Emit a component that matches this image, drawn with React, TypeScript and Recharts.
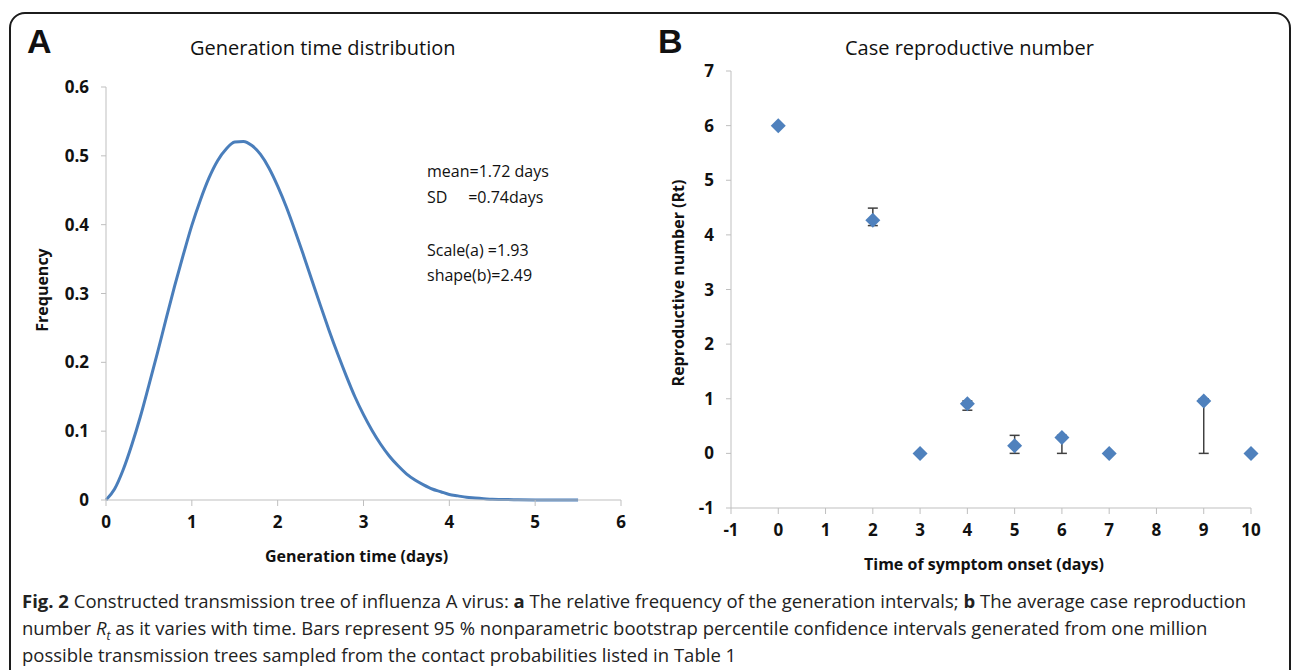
import React from "react";
import {
  LineChart,
  Line,
  ScatterChart,
  Scatter,
  ErrorBar,
  XAxis,
  YAxis,
} from "recharts";

// Panel A: generation time distribution
const genTime = [
  0, 0.1, 0.2, 0.3, 0.4, 0.5, 0.6, 0.7, 0.8, 0.9, 1.0, 1.1, 1.2, 1.3, 1.4,
  1.5, 1.6, 1.7, 1.8, 1.9, 2.0, 2.1, 2.2, 2.3, 2.4, 2.5, 2.6, 2.7, 2.8, 2.9,
  3.0, 3.1, 3.2, 3.3, 3.4, 3.5, 3.6, 3.7, 3.8, 3.9, 4.0, 4.1, 4.2, 4.3, 4.4,
  4.5, 4.75, 5.0, 5.25, 5.5,
];
const genFreq = [
  0, 0.016, 0.044, 0.08, 0.121, 0.167, 0.214, 0.263, 0.311, 0.356, 0.399,
  0.436, 0.468, 0.493, 0.51, 0.52, 0.521, 0.515, 0.502, 0.482, 0.456, 0.426,
  0.392, 0.356, 0.319, 0.282, 0.246, 0.212, 0.18, 0.15, 0.124, 0.101, 0.081,
  0.064, 0.05, 0.038, 0.029, 0.022, 0.016, 0.012, 0.008, 0.006, 0.004, 0.003,
  0.002, 0.001, 0.0005, 0.0001, 0, 0,
];
const genTicksX = [0, 1, 2, 3, 4, 5, 6];
const genTicksY = [0, 0.1, 0.2, 0.3, 0.4, 0.5, 0.6];

// Panel B: case reproductive number with 95% CI
const onsetDays = [0, 2, 3, 4, 5, 6, 7, 9, 10];
const rtValues = [6, 4.27, 0, 0.91, 0.14, 0.29, 0, 0.96, 0];
const rtErrLow = [0, 0.1, 0, 0.12, 0.14, 0.29, 0, 0.96, 0];
const rtErrHigh = [0, 0.22, 0, 0.05, 0.19, 0.04, 0, 0.04, 0];
const onsetTicks = [-1, 0, 1, 2, 3, 4, 5, 6, 7, 8, 9, 10];
const rtTicks = [-1, 0, 1, 2, 3, 4, 5, 6, 7];

const genData = genTime.map((t, i) => ({ t, f: genFreq[i] }));
const rtData = onsetDays.map((day, i) => ({
  day,
  rt: rtValues[i],
  err: [rtErrLow[i], rtErrHigh[i]],
}));

const AXIS = "#bfbfbf";
const BLUE = "#4F81BD";
const FONT = '"Open Sans", "DejaVu Sans", sans-serif';

const tickStyle = { fontSize: 17, fontWeight: 700, fill: "#111", fontFamily: FONT };

// square diamond marker like Excel's
const Diamond = (props: any) => {
  const { cx, cy } = props;
  const r = 7.5;
  return (
    <polygon
      points={`${cx},${cy - r} ${cx + r},${cy} ${cx},${cy + r} ${cx - r},${cy}`}
      fill={BLUE}
    />
  );
};

const abs = (left: number, top: number, extra: React.CSSProperties = {}) =>
  ({ position: "absolute", left, top, whiteSpace: "pre", ...extra } as React.CSSProperties);

export default function App() {
  return (
    <div
      style={{
        position: "absolute",
        left: 0,
        top: 0,
        width: 1292,
        height: 670,
        overflow: "hidden",
        background: "#fff",
        fontFamily: FONT,
        color: "#111",
      }}
    >
      {/* outer frame */}
      <div
        style={{
          position: "absolute",
          left: 9,
          top: 12,
          width: 1282,
          height: 720,
          boxSizing: "border-box",
          border: "2px solid #1c1c1c",
          borderRadius: 16,
        }}
      />

      {/* Panel A */}
      <div style={{ position: "absolute", left: 0, top: 0 }}>
        <LineChart
          width={640}
          height={600}
          data={genData}
          margin={{ top: 87, right: 19, bottom: 30, left: 0 }}
        >
          <XAxis
            type="number"
            dataKey="t"
            domain={[0, 6]}
            ticks={genTicksX}
            height={70}
            stroke={AXIS}
            tickSize={6}
            tickMargin={10}
            tick={tickStyle}
          />
          <YAxis
            type="number"
            domain={[0, 0.6]}
            ticks={genTicksY}
            width={106}
            stroke={AXIS}
            tickSize={5}
            tickMargin={12}
            tick={tickStyle}
          />
          <Line
            type="monotone"
            dataKey="f"
            stroke="#4A7EBB"
            strokeWidth={3}
            dot={false}
            isAnimationActive={false}
          />
        </LineChart>
      </div>

      {/* Panel B */}
      <div style={{ position: "absolute", left: 640, top: 0 }}>
        <ScatterChart
          width={652}
          height={600}
          margin={{ top: 71, right: 41, bottom: 32, left: 0 }}
        >
          <XAxis
            type="number"
            dataKey="day"
            domain={[-1, 10]}
            ticks={onsetTicks}
            height={60}
            stroke={AXIS}
            tickSize={6}
            tickMargin={10}
            tick={tickStyle}
          />
          <YAxis
            type="number"
            dataKey="rt"
            domain={[-1, 7]}
            ticks={rtTicks}
            width={91}
            stroke={AXIS}
            tickSize={5}
            tickMargin={12}
            tick={tickStyle}
          />
          <Scatter data={rtData} shape={<Diamond />} isAnimationActive={false}>
            <ErrorBar
              dataKey="err"
              direction="y"
              width={5}
              stroke="#404040"
              strokeWidth={1.5}
              isAnimationActive={false}
            />
          </Scatter>
        </ScatterChart>
      </div>

      {/* panel letters and titles */}
      <div style={abs(27, 22, { fontFamily: "Liberation Sans", fontWeight: 700, fontSize: 34 })}>A</div>
      <div style={abs(658, 22, { fontFamily: "Liberation Sans", fontWeight: 700, fontSize: 34 })}>B</div>
      <div style={abs(190, 34, { fontSize: 20 })}>Generation time distribution</div>
      <div style={abs(845, 34, { fontSize: 20 })}>Case reproductive number</div>

      {/* fit parameters */}
      <div style={abs(427, 160, { fontSize: 16 })}>mean=1.72 days</div>
      <div style={abs(427, 186, { fontSize: 16 })}>{"SD     =0.74days"}</div>
      <div style={abs(427, 239, { fontSize: 16 })}>Scale(a) =1.93</div>
      <div style={abs(427, 264, { fontSize: 16 })}>shape(b)=2.49</div>

      {/* axis titles */}
      <div style={abs(265, 545, { fontSize: 16, fontWeight: 700 })}>Generation time (days)</div>
      <div style={abs(864, 553, { fontSize: 16, fontWeight: 700 })}>Time of symptom onset (days)</div>
      <div
        style={abs(42, 290, {
          fontSize: 16,
          fontWeight: 700,
          transform: "translate(-50%, -50%) rotate(-90deg)",
        })}
      >
        Frequency
      </div>
      <div
        style={abs(678, 283, {
          fontSize: 16,
          fontWeight: 700,
          transform: "translate(-50%, -50%) rotate(-90deg)",
        })}
      >
        Reproductive number (Rt)
      </div>

      {/* caption */}
      <div
        style={{
          position: "absolute",
          left: 22,
          top: 587,
          fontSize: 18.5,
          lineHeight: "27px",
          color: "#222",
          whiteSpace: "nowrap",
        }}
      >
        <b>Fig. 2</b> Constructed transmission tree of influenza A virus: <b>a</b> The relative
        frequency of the generation intervals; <b>b</b> The average case reproduction
        <br />
        number{" "}
        <i>
          R<sub style={{ fontSize: 12, lineHeight: 0 }}>t</sub>
        </i>{" "}
        as it varies with time. Bars represent 95 % nonparametric bootstrap percentile confidence
        intervals generated from one million
        <br />
        possible transmission trees sampled from the contact probabilities listed in Table 1
      </div>
    </div>
  );
}
